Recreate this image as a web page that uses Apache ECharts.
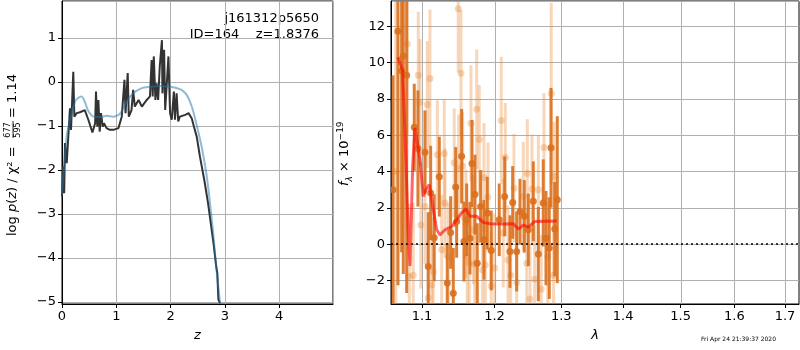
<!DOCTYPE html>
<html>
<head>
<meta charset="utf-8">
<script src="https://cdn.jsdelivr.net/npm/echarts@6/dist/echarts.min.js"></script>
<style>
  html, body { margin: 0; padding: 0; background: #fff; }
  #chart { width: 800px; height: 350px; }
</style>
</head>
<body>
<div id="chart"></div>
<script>
// ---- left panel: log p(z)
const zGrid = [0.00, 0.02, 0.04, 0.055, 0.087, 0.116, 0.147, 0.166, 0.208, 0.227, 0.27, 0.33, 0.42, 0.485, 0.56,
  0.61, 0.626, 0.65, 0.67, 0.694, 0.718, 0.75, 0.773, 0.82, 0.88, 0.945, 1.04, 1.10, 1.15, 1.17,
  1.21, 1.23, 1.28, 1.31, 1.34, 1.41, 1.47, 1.56, 1.62, 1.65, 1.67, 1.69, 1.72, 1.74, 1.77,
  1.80, 1.84, 1.85, 1.88, 1.90, 1.93, 1.96, 1.99, 2.02, 2.06, 2.08, 2.11, 2.14, 2.17, 2.27,
  2.33, 2.39, 2.43, 2.48, 2.54, 2.62, 2.69, 2.79, 2.84, 2.86, 2.88, 2.91]
const logPz = [-2.6, -1.92, -2.53, -1.39, -1.85, -1.24, -0.6, -1.09, 0.23, -0.79, -0.71, -0.69, -0.64, -0.86, -1.15,
  -0.94, -0.22, -1.02, -0.41, -1.13, -0.71, -1.02, -0.94, -1.05, -1.09, -1.09, -1.05, -0.79, 0.05, -0.71,
  0.2, -0.79, -0.64, -0.18, -0.56, -0.41, -0.56, -0.41, -0.33, 0.5, -0.33, 0.58, -0.41, -0.03, -0.41,
  0.35, 0.95, -0.26, 0.73, -0.64, -0.03, 0.58, -0.71, -0.86, -0.22, -0.86, -0.26, -0.9, -0.79, -0.75,
  -0.71, -0.83, -1.02, -1.24, -1.70, -2.23, -2.76, -3.67, -4.20, -4.35, -4.95, -5.03]
const zPrior = [0.00, 0.05, 0.09, 0.15, 0.24, 0.30, 0.36, 0.42, 0.48, 0.58, 0.70, 0.82, 0.94, 1.04, 1.10,
  1.19, 1.31, 1.47, 1.62, 1.80, 1.99, 2.11, 2.20, 2.30, 2.39, 2.48, 2.57, 2.66, 2.72, 2.78, 2.84, 2.91]
const logPrior = [-2.55, -1.75, -1.2, -0.86, -0.45, -0.36, -0.33, -0.45, -0.65, -0.79, -0.8, -0.77, -0.79, -0.75, -0.67,
  -0.45, -0.26, -0.14, -0.11, -0.09, -0.11, -0.14, -0.18, -0.30, -0.56, -0.98, -1.47, -2.1, -2.7, -3.4, -4.2, -5.03]

// ---- right panel: spectrum (wavelength in micron, flux x 1e-19)
const waveDark = [1.0625, 1.0688, 1.0735, 1.0756, 1.0800, 1.0899, 1.0947, 1.1040, 1.1083, 1.1115, 1.1163, 1.1231,
  1.1339, 1.1385, 1.1421, 1.1454, 1.1467, 1.1536, 1.1568, 1.1606, 1.1652, 1.1680, 1.1722, 1.1754, 1.1802,
  1.1849, 1.1896, 1.1953, 1.2068, 1.2147, 1.2224, 1.2264, 1.2323, 1.2372, 1.2436, 1.2496, 1.2571, 1.2647,
  1.2722, 1.2764, 1.2814, 1.2841, 1.2898, 1.2938]
const fluxDark = [3.0, 11.73, 9.55, 10.35, 9.31, 6.44, 5.27, 5.07, -1.24, 2.82, 0.35, 3.72,
  -2.14, 0.64, -2.71, 3.15, 1.25, 4.85, 0.14, 1.34, 0.33, 4.44, 2.73, -1.05, 2.08,
  0.24, 1.71, -0.35, 1.34, 2.63, -0.41, 2.30, -0.41, 1.80, 1.53, 0.79, 2.36, -0.55,
  2.27, 0.33, -0.22, 5.31, 0.83, 2.45]
const errDark = [6.3, 14, 10, 12, 12, 2.4, 3.2, 2.3, 3.0, 2.6, 2.4, 2.2,
  2.2, 2.0, 2.5, 2.2, 2.0, 2.6, 2.2, 2.0, 2.0, 2.4, 2.2, 2.2, 2.0,
  2.2, 2.0, 2.2, 2.0, 2.2, 2.0, 2.0, 2.2, 1.8, 2.0, 2.0, 2.2, 2.6,
  2.4, 2.6, 2.8, 3.3, 2.6, 4.6]
const waveLight = [1.0660, 1.0808, 1.0834, 1.0885, 1.0951, 1.0974, 1.0985, 1.1040, 1.1070, 1.1083, 1.1106, 1.1129,
  1.1150, 1.1204, 1.1263, 1.1298, 1.1308, 1.1353, 1.1434, 1.1489, 1.1495, 1.1527, 1.1550, 1.1596, 1.1614,
  1.1641, 1.1666, 1.1698, 1.1718, 1.1746, 1.1782, 1.1830, 1.1849, 1.1868, 1.1906, 1.1953, 1.2002, 1.2097,
  1.2126, 1.2156, 1.2195, 1.2235, 1.2283, 1.2323, 1.2421, 1.2472, 1.2481, 1.2521, 1.2551, 1.2592, 1.2647,
  1.2691, 1.2733, 1.2790, 1.2845, 1.2880, 1.2887]
const fluxLight = [4.0, 11.03, -1.79, -1.72, 9.31, 7.80, 1.05, 2.08, 7.69, -2.95, 9.13, -2.25,
  -1.52, 4.92, -0.31, 5.0, 2.27, -0.74, 4.48, 12.97, 4.15, 9.42, 4.30, 1.12, -0.72,
  -1.05, 6.66, 0.79, -1.09, 7.43, 5.77, -1.42, 3.67, -1.15, 2.60, -2.31, -1.31, 6.82,
  0.61, 4.78, -0.87, -1.72, 3.08, -2.12, 2.63, -1.05, 3.89, -3.03, 3.04, -1.94, 3.0,
  -2.49, 5.33, -0.70, 8.30, -1.72, 3.74]
const errLight = [9.5, 5, 4, 4, 3.5, 3.5, 3.5, 3.2, 3.5, 3.2, 3.8, 3.0,
  3.0, 3.0, 3.0, 3.0, 3.0, 3.0, 3.0, 3.5, 3.0, 3.5, 3.0, 3.0, 3.0,
  3.0, 3.2, 3.0, 3.0, 3.3, 3.0, 3.0, 3.0, 3.0, 3.0, 3.0, 3.0, 3.5,
  3.0, 3.0, 3.0, 3.0, 3.0, 3.0, 3.0, 3.0, 3.0, 3.0, 3.0, 3.0, 3.0,
  3.0, 3.0, 3.0, 5.0, 3.0, 3.0]
const waveModel = [1.0688, 1.0748, 1.0778, 1.0821, 1.0843, 1.0878, 1.0908, 1.0974, 1.1017, 1.1053, 1.1097, 1.1129,
  1.1196, 1.1240, 1.1308, 1.1399, 1.1467, 1.1536, 1.1596, 1.1652, 1.1746, 1.1839, 1.1935, 1.2126, 1.2273,
  1.2346, 1.2421, 1.2496, 1.2596, 1.2928]
const fluxModel = [10.3, 9.55, 6.16, 0.62, -1.2, 4.3, 6.4, 4.67, 2.63, 3.0, 3.28, 2.45,
  0.79, 0.51, 0.79, 0.97, 1.34, 1.72, 1.94, 1.53, 1.53, 1.2, 1.12, 1.11, 1.12,
  0.83, 1.05, 0.94, 1.25, 1.27]
const waveTicks = [1.1, 1.2, 1.3, 1.4, 1.5, 1.6, 1.7]

const font = 'DejaVu Sans'
const gridColor = '#b0b0b0'
const minus = v => String(v).replace('-', '\u2212')
const fluxMin = -3.3
const fluxMax = 13.4
const waveMin = 1.0599
const waveMax = 1.7288

// x axis of the spectrum is logarithmic in wavelength
const lnW = w => Math.log(w)

// grid boxes (px)
const specGrid = { left: 391, top: 1, width: 408, height: 303 }

function axisCommon(fmt) {
  return {
    axisLine: { show: true, onZero: false, lineStyle: { color: '#000', width: 1 } },
    axisTick: { show: true, length: 4, lineStyle: { color: '#000' } },
    axisLabel: { color: '#000', fontFamily: font, fontSize: 13, margin: 6, formatter: fmt,
      showMinLabel: false, showMaxLabel: false },
    splitLine: { show: true, lineStyle: { color: gridColor, width: 1 } }
  }
}

function errorBars(color, opacity) {
  return function(params, api) {
    const x = api.value(0)
    const y = api.value(1)
    const e = api.value(2)
    const top = api.coord([x, y + e])
    const bot = api.coord([x, y - e])
    const mid = api.coord([x, y])
    return {
      type: 'group',
      children: [
        { type: 'line', shape: { x1: top[0], y1: top[1], x2: bot[0], y2: bot[1] },
          style: { stroke: color, lineWidth: 3, opacity: opacity } },
        { type: 'circle', shape: { cx: mid[0], cy: mid[1], r: 3.5 },
          style: { fill: color, opacity: opacity } }
      ]
    }
  }
}

const chart = echarts.init(document.getElementById('chart'), null, { renderer: 'canvas' })

const lamAxis = {
  type: 'value', gridIndex: 1, min: lnW(waveMin), max: lnW(waveMax),
  name: '\u03bb', nameLocation: 'middle', nameGap: 25,
  nameTextStyle: { fontFamily: font, fontSize: 13, fontStyle: 'italic', color: '#000' },
  axisLine: { show: true, onZero: false, lineStyle: { color: '#000', width: 1 } },
  axisTick: { show: true, length: 4, customValues: waveTicks.map(lnW), lineStyle: { color: '#000' } },
  axisLabel: { customValues: waveTicks.map(lnW), color: '#000', fontFamily: font, fontSize: 13, margin: 6,
    formatter: v => Math.exp(v).toFixed(1) },
  splitLine: { show: false }
}

chart.setOption({
  animation: false,
  backgroundColor: '#fff',
  grid: [
    { left: 62, top: 1, width: 271, height: 303, show: true, borderColor: '#000', borderWidth: 1 },
    Object.assign({ show: true, borderColor: '#000', borderWidth: 1 }, specGrid)
  ],
  xAxis: [
    Object.assign({ type: 'value', gridIndex: 0, min: 0, max: 4.99, splitNumber: 5,
      name: 'z', nameLocation: 'middle', nameGap: 25,
      nameTextStyle: { fontFamily: font, fontSize: 13, fontStyle: 'italic', color: '#000' } },
      axisCommon(v => minus(v)), { axisLabel: { color: '#000', fontFamily: font, fontSize: 13, margin: 6,
        showMinLabel: true, showMaxLabel: false } }),
    lamAxis
  ],
  yAxis: [
    Object.assign({ type: 'value', gridIndex: 0, min: -5.05, max: 1.84, splitNumber: 5 },
      axisCommon(v => minus(v))),
    Object.assign({ type: 'value', gridIndex: 1, min: fluxMin, max: fluxMax, splitNumber: 8 },
      axisCommon(v => minus(v)))
  ],
  series: [
    {
      type: 'line', xAxisIndex: 0, yAxisIndex: 0, showSymbol: false, symbol: 'none',
      data: zGrid.map((z, i) => [z, logPz[i]]),
      lineStyle: { color: '#333', width: 2 }, z: 3
    },
    {
      type: 'line', xAxisIndex: 0, yAxisIndex: 0, showSymbol: false, symbol: 'none', smooth: 0.3,
      data: zPrior.map((z, i) => [z, logPrior[i]]),
      lineStyle: { color: 'rgba(31,119,180,0.5)', width: 2 }, z: 4
    },
    {
      type: 'custom', xAxisIndex: 1, yAxisIndex: 1, clip: true,
      renderItem: errorBars('#e8893a', 0.35),
      encode: { x: 0, y: 1 },
      data: waveLight.map((w, i) => [lnW(w), fluxLight[i], errLight[i]]), z: 3
    },
    {
      type: 'custom', xAxisIndex: 1, yAxisIndex: 1, clip: true,
      renderItem: errorBars('#d9701e', 0.9),
      encode: { x: 0, y: 1 },
      data: waveDark.map((w, i) => [lnW(w), fluxDark[i], errDark[i]]), z: 4
    },
    {
      type: 'line', xAxisIndex: 1, yAxisIndex: 1, showSymbol: false, symbol: 'none',
      data: waveModel.map((w, i) => [lnW(w), fluxModel[i]]),
      lineStyle: { color: 'rgba(255,0,0,0.6)', width: 3 }, z: 5
    },
    {
      type: 'line', xAxisIndex: 1, yAxisIndex: 1, data: [], z: 6,
      markLine: {
        silent: true, symbol: 'none', label: { show: false },
        lineStyle: { color: '#000', type: [2, 3], width: 1.5 },
        data: [{ yAxis: 0 }]
      }
    }
  ],
  graphic: [
    { id: 'name1', type: 'text', right: 800 - 319, top: 12,
      style: { text: 'j161312p5650', font: '13px "DejaVu Sans"', fill: '#000', align: 'right' } },
    { id: 'name2', type: 'text', right: 800 - 319, top: 28,
      style: { text: 'ID=164    z=1.8376', font: '13px "DejaVu Sans"', fill: '#000', align: 'right' } },
    {
      id: 'ylabLeft', type: 'group', x: 13, y: 236, rotation: Math.PI / 2,
      children: [
        { type: 'text', x: 0, y: 0, style: {
          text: '{n|log }{i|p}{n|(}{i|z}{n|) / \u03c7\u00b2 =}',
          verticalAlign: 'middle', align: 'left',
          rich: {
            n: { fontFamily: font, fontSize: 13, fill: '#000' },
            i: { fontFamily: font, fontSize: 13, fontStyle: 'italic', fill: '#000' }
          } } },
        { type: 'text', x: 106, y: -5, style: { text: '677', font: '8px "DejaVu Sans"', fill: '#000', align: 'center', verticalAlign: 'middle' } },
        { type: 'text', x: 106, y: 5, style: { text: '595', font: '8px "DejaVu Sans"', fill: '#000', align: 'center', verticalAlign: 'middle' } },
        { type: 'line', shape: { x1: 98, y1: 0, x2: 115, y2: 0 }, style: { stroke: '#000', lineWidth: 0.8 } },
        { type: 'text', x: 118, y: 0, style: { text: '= 1.14', font: '13px "DejaVu Sans"', fill: '#000', align: 'left', verticalAlign: 'middle' } }
      ]
    },
    {
      id: 'ylabRight', type: 'group', x: 345, y: 186, rotation: Math.PI / 2,
      children: [
        { type: 'text', x: 0, y: 0, style: {
          text: '{i|f}{sub|\u03bb}{n| \u00d7 10}{sup|\u221219}',
          verticalAlign: 'middle', align: 'left',
          rich: {
            n: { fontFamily: font, fontSize: 13, fill: '#000', lineHeight: 18, verticalAlign: 'middle' },
            i: { fontFamily: font, fontSize: 13, fontStyle: 'italic', fill: '#000', lineHeight: 18, verticalAlign: 'middle' },
            sub: { fontFamily: font, fontSize: 9, fontStyle: 'italic', fill: '#000', lineHeight: 18, verticalAlign: 'bottom' },
            sup: { fontFamily: font, fontSize: 9, fill: '#000', lineHeight: 18, verticalAlign: 'top' }
          } } }
      ]
    },
    { id: 'stamp', type: 'text', left: 701, top: 336,
      style: { text: 'Fri Apr 24 21:39:37 2020', font: '6px "DejaVu Sans"', fill: '#000' } }
  ]
})

// vertical grid lines of the log-wavelength axis
function waveToPx(w) {
  let px = null
  try {
    const p = chart.convertToPixel({ gridIndex: 1 }, [lnW(w), 0])
    if (p && isFinite(p[0])) px = p[0]
  } catch (e) { px = null }
  if (px == null) {
    // same linear map the value axis uses on ln(lambda)
    const t = (lnW(w) - lnW(waveMin)) / (lnW(waveMax) - lnW(waveMin))
    px = specGrid.left + t * specGrid.width
  }
  return Math.round(px) + 0.5
}

chart.setOption({
  graphic: waveTicks.map((w, i) => {
    const x = waveToPx(w)
    return {
      id: 'vgrid' + i, type: 'line', z: 2, silent: true,
      shape: { x1: x, y1: specGrid.top, x2: x, y2: specGrid.top + specGrid.height },
      style: { stroke: gridColor, lineWidth: 1 }
    }
  })
})
</script>
</body>
</html>
